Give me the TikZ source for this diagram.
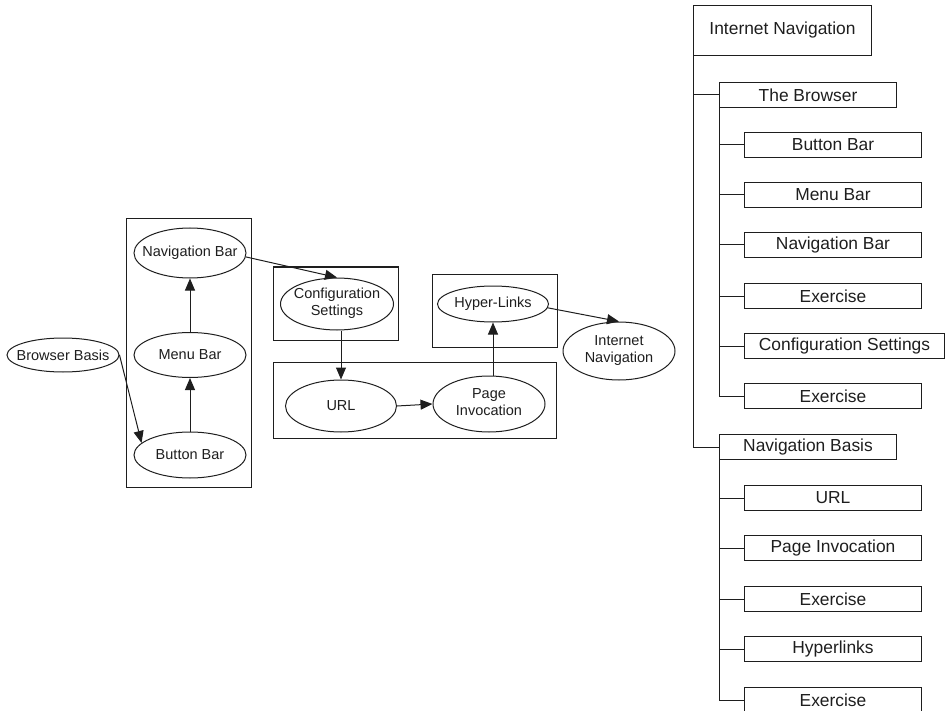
\documentclass[tikz,border=0pt]{standalone}
\usepackage{fontspec}
\setmainfont{Liberation Sans}
\usetikzlibrary{shapes.geometric,arrows.meta}
\definecolor{ink}{HTML}{1E1E1E}
\begin{document}
\begin{tikzpicture}[x=1pt,y=-1pt,line width=1pt,draw=ink,text=ink,
  ell/.style={draw,ellipse,inner sep=0pt,font=\fontsize{14.5}{17}\selectfont},
  arr/.style={-{Triangle[length=12pt,width=10pt]}},
  tbox/.style={draw,rectangle,anchor=north west,inner sep=0pt,minimum width=177,minimum height=25,font=\fontsize{17.4}{20}\selectfont}]
\useasboundingbox (0,0) rectangle (947,711);
% clusters
\draw (126,219) rectangle (251,487);
\draw (273,267) rectangle (398,340);
\draw (432,274) rectangle (557,347);
\draw (273,362) rectangle (556,438);
% ellipses
\node[ell,minimum width=112,minimum height=34] (bb) at (63,355) {\makebox[0pt]{Browser Basis}};
\node[ell,minimum width=112,minimum height=50] (nav) at (190,253) {\makebox[0pt]{Navigation Bar}};
\node[ell,minimum width=112,minimum height=45] (menu) at (190,355) {\makebox[0pt]{Menu Bar}};
\node[ell,minimum width=112,minimum height=46] (btn) at (190,455) {\makebox[0pt]{Button Bar}};
\node[ell,minimum width=113,minimum height=52] (cfg) at (337,304) {\makebox[0pt]{\begin{tabular}{@{}c@{}}Configuration\\Settings\end{tabular}}};
\node[ell,minimum width=111,minimum height=52] (url) at (341,406) {\makebox[0pt]{URL}};
\node[ell,minimum width=112,minimum height=56] (pi) at (489,404) {\makebox[0pt]{\begin{tabular}{@{}c@{}}Page\\Invocation\end{tabular}}};
\node[ell,minimum width=111,minimum height=36] (hl) at (493,304) {\makebox[0pt]{Hyper-Links}};
\node[ell,minimum width=112,minimum height=58] (inav) at (619,351) {\makebox[0pt]{\begin{tabular}{@{}c@{}}Internet\\Navigation\end{tabular}}};
% arrows
\draw[arr] (bb.east) -- (btn.166);
\draw[arr] (btn.north) -- (menu.south);
\draw[arr] (menu.north) -- (nav.south);
\draw[arr] (nav.-4) -- (cfg.north);
\draw[arr] (cfg.south -| url.north) -- (url.north);
\draw[arr] (url.east) -- (pi.west);
\draw[arr] (hl.south |- pi.north) -- (hl.south);
\draw[arr] (hl.-4) -- (inav.north);
% tree
\node[tbox,minimum width=178,minimum height=50] (tin) at (693,5) {Internet Navigation};
\node[tbox] (tbr) at (719,82) {The Browser};
\node[tbox] (b1) at (744,132) {Button Bar};
\node[tbox] (b2) at (744,182) {Menu Bar};
\node[tbox] (b3) at (744,232) {Navigation Bar};
\node[tbox] (b4) at (744,283) {Exercise};
\node[tbox,minimum width=200] (b5) at (744,333) {Configuration Settings};
\node[tbox] (b6) at (744,383) {Exercise};
\node[tbox] (tnb) at (719,434) {Navigation Basis};
\node[tbox] (n1) at (744,485) {URL};
\node[tbox] (n2) at (744,535) {Page Invocation};
\node[tbox] (n3) at (744,586) {Exercise};
\node[tbox] (n4) at (744,636) {Hyperlinks};
\node[tbox] (n5) at (744,687) {Exercise};
\draw (tin.south west) |- (tbr.west);
\draw (tin.south west) |- (tnb.west);
\foreach \c in {b1,b2,b3,b4,b5,b6} \draw (tbr.south west) |- (\c.west);
\foreach \c in {n1,n2,n3,n4,n5} \draw (tnb.south west) |- (\c.west);
\end{tikzpicture}
\end{document}
